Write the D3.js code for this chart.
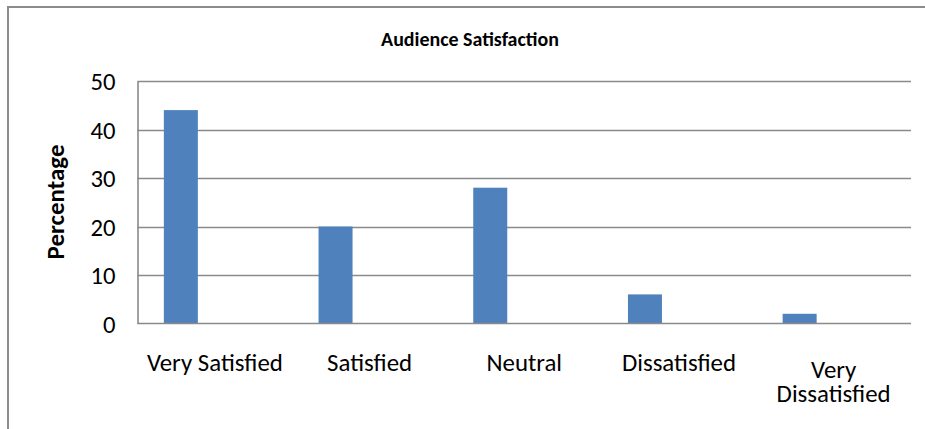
<!DOCTYPE html>
<html>
<head>
<meta charset="utf-8">
<script src="https://cdn.jsdelivr.net/npm/d3@7"></script>
<style>
  html, body { margin: 0; padding: 0; background: #fff; }
  svg { display: block; }
  text { font-family: Calibri, Carlito, Lato, "Open Sans", sans-serif; fill: #000; }
</style>
</head>
<body>
<svg id="chart" width="925" height="429"></svg>
<script>
// Survey responses (percent of audience)
const categories = ["Very Satisfied", "Satisfied", "Neutral", "Dissatisfied", "Very Dissatisfied"];
const percentages = [44, 20, 28, 6, 2];
const yTicks = [0, 10, 20, 30, 40, 50];
// Three cluster slots per category; only the first carries data
const seriesSlots = ["Percentage", "Series 2", "Series 3"];
const chartTitle = "Audience Satisfaction";
const yAxisTitle = "Percentage";

const svg = d3.select("#chart");
const W = 925, H = 429;

// Font size that gives a string a wanted rendered width
function sizeForWidth(str, width, weight) {
  const t = svg.append("text")
    .style("font-size", "100px")
    .style("font-weight", weight || "normal")
    .text(str);
  const w = t.node().getComputedTextLength();
  t.remove();
  return 100 * width / w;
}

const labelSize = sizeForWidth("Very Satisfied", 136);
const tickSize = sizeForWidth("50", 25);
const titleSize = sizeForWidth(chartTitle, 178, "bold");
const yTitleSize = sizeForWidth(yAxisTitle, 115, "bold");

// Chart frame
svg.append("rect")
  .attr("x", 8).attr("y", 7)
  .attr("width", W + 20).attr("height", H + 20)
  .attr("fill", "#fff")
  .attr("stroke", "#8c8c8c")
  .attr("stroke-width", 2);

const plot = { left: 137.5, right: 911, top: 81, bottom: 323.5 };

const x = d3.scaleBand()
  .domain(categories)
  .range([plot.left, plot.right])
  .paddingInner(0).paddingOuter(0);

const xSlot = d3.scaleBand()
  .domain(seriesSlots)
  .range([0, x.bandwidth()])
  .paddingInner(0).paddingOuter(0.775);

const y = d3.scaleLinear()
  .domain([0, 50])
  .range([plot.bottom, plot.top]);

// Gridlines
svg.append("g")
  .selectAll("line")
  .data(yTicks.filter(d => d > 0))
  .join("line")
  .attr("x1", plot.left).attr("x2", plot.right)
  .attr("y1", d => Math.round(y(d)) + 0.5).attr("y2", d => Math.round(y(d)) + 0.5)
  .attr("stroke", "#8a8a8a")
  .attr("stroke-width", 1.3);

// Y axis
const yAxis = svg.append("g")
  .attr("transform", `translate(${plot.left},0)`)
  .call(d3.axisLeft(y).tickValues(yTicks).tickSize(0).tickPadding(22));
yAxis.select(".domain").attr("stroke", "#8a8a8a").attr("stroke-width", 1.6);
yAxis.selectAll("text")
  .style("font-size", tickSize + "px")
  .attr("dy", "0.35em");

// Bars
svg.append("g")
  .selectAll("rect")
  .data(categories.map((c, i) => ({ c, v: percentages[i] })))
  .join("rect")
  .attr("x", d => x(d.c) + xSlot(seriesSlots[0]))
  .attr("width", xSlot.bandwidth())
  .attr("y", d => y(d.v))
  .attr("height", d => y(0) - y(d.v))
  .attr("fill", "#4f81bd");

// X axis
const xAxis = svg.append("g")
  .attr("transform", `translate(0,${plot.bottom})`)
  .call(d3.axisBottom(x).tickSize(0).tickPadding(0));
xAxis.select(".domain").attr("stroke", "#8a8a8a").attr("stroke-width", 1.6)
  .attr("d", `M${plot.left},0H${plot.right}`);

// Wrap category labels that are wider than their band
xAxis.selectAll(".tick text").each(function(d) {
  const t = d3.select(this);
  t.text(null).attr("y", 0).attr("dy", null).style("font-size", labelSize + "px");
  const words = d.split(" ");
  const lines = [];
  let line = [];
  const probe = t.append("tspan");
  words.forEach(w => {
    const trial = line.concat(w).join(" ");
    probe.text(trial);
    if (probe.node().getComputedTextLength() > x.bandwidth() - 4 && line.length) {
      lines.push(line.join(" "));
      line = [w];
    } else {
      line.push(w);
    }
  });
  lines.push(line.join(" "));
  probe.remove();
  const shift = (lines.length - 1) * 7;
  lines.forEach((l, i) => {
    t.append("tspan")
      .attr("x", 0)
      .attr("y", 47 + shift + i * 24)
      .text(l);
  });
});

// Title
svg.append("text")
  .attr("x", 470).attr("y", 46)
  .attr("text-anchor", "middle")
  .style("font-size", titleSize + "px")
  .style("font-weight", "bold")
  .text(chartTitle);

// Y axis title
svg.append("text")
  .attr("transform", `translate(64,202) rotate(-90)`)
  .attr("text-anchor", "middle")
  .style("font-size", yTitleSize + "px")
  .style("font-weight", "bold")
  .text(yAxisTitle);
</script>
</body>
</html>
